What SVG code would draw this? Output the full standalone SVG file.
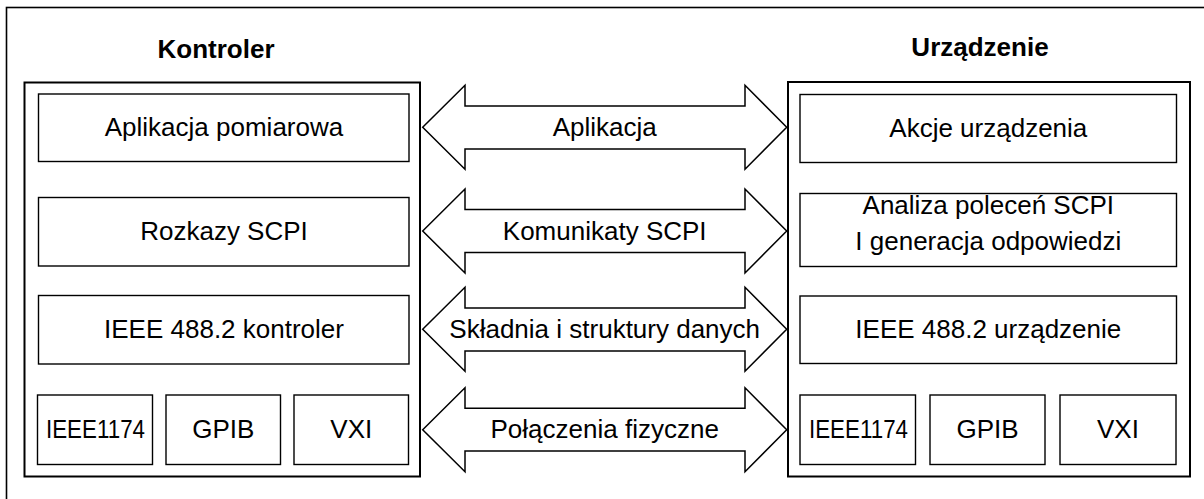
<svg xmlns="http://www.w3.org/2000/svg" width="1204" height="499" viewBox="0 0 1204 499">
<style>
.frame{fill:none;stroke:#000;stroke-width:1.6}
.cont{fill:#fff;stroke:#000;stroke-width:2}
.box{fill:#fff;stroke:#000;stroke-width:1.4}
.arr{fill:#fff;stroke:#000;stroke-width:1.5;stroke-linejoin:miter}
text{font-family:"Liberation Sans",Arial,sans-serif;font-size:26px;fill:#000;text-anchor:middle}
.title{font-weight:bold}
</style>
<rect class="frame" x="6.5" y="7.5" width="1220" height="520"/>
<g id="kontroler">
  <rect class="cont" x="24.5" y="82.5" width="395.5" height="394"/>
  <text class="title" x="216" y="58">Kontroler</text>
</g>
<g id="k-aplikacja">
  <rect class="box" x="38.5" y="94" width="370.5" height="67.5"/>
  <text x="224" y="136">Aplikacja pomiarowa</text>
</g>
<g id="k-scpi">
  <rect class="box" x="38.5" y="197.5" width="370.5" height="68.5"/>
  <text x="224" y="240">Rozkazy SCPI</text>
</g>
<g id="k-ieee">
  <rect class="box" x="38.5" y="295.5" width="370.5" height="68.5"/>
  <text x="224" y="338">IEEE 488.2 kontroler</text>
</g>
<g id="k-ieee1174">
  <rect class="box" x="37.5" y="395" width="115" height="69.5"/>
  <text x="95.5" y="437.5" textLength="99" lengthAdjust="spacingAndGlyphs">IEEE1174</text>
</g>
<g id="k-gpib">
  <rect class="box" x="166" y="395" width="114.5" height="69.5"/>
  <text x="223.3" y="437.5">GPIB</text>
</g>
<g id="k-vxi">
  <rect class="box" x="294" y="395" width="114.5" height="69.5"/>
  <text x="351.3" y="437.5">VXI</text>
</g>
<g id="urzadzenie">
  <rect class="cont" x="788" y="82" width="402" height="394.5"/>
  <text class="title" x="980" y="55.5">Urządzenie</text>
</g>
<g id="u-akcje">
  <rect class="box" x="800" y="94.5" width="376.5" height="68"/>
  <text x="988.3" y="136.5">Akcje urządzenia</text>
</g>
<g id="u-analiza">
  <rect class="box" x="800" y="193.5" width="376.5" height="73"/>
  <text x="988.3" y="213.5">Analiza poleceń SCPI</text>
  <text x="988.3" y="250">I generacja odpowiedzi</text>
</g>
<g id="u-ieee">
  <rect class="box" x="800" y="296" width="376.5" height="67.5"/>
  <text x="988.3" y="338">IEEE 488.2 urządzenie</text>
</g>
<g id="u-ieee1174">
  <rect class="box" x="800" y="395" width="115.5" height="69.5"/>
  <text x="858.5" y="437.5" textLength="99" lengthAdjust="spacingAndGlyphs">IEEE1174</text>
</g>
<g id="u-gpib">
  <rect class="box" x="930" y="395" width="115" height="69.5"/>
  <text x="987.5" y="437.5">GPIB</text>
</g>
<g id="u-vxi">
  <rect class="box" x="1060" y="395" width="116" height="69.5"/>
  <text x="1118" y="437.5">VXI</text>
</g>
<g id="connectors">
  <path class="arr" d="M422.7,127.3 L465,85.3 L465,106 L745,106 L745,85.3 L786.7,127.3 L745,169.3 L745,149 L465,149 L465,169.3 Z"/>
  <text x="604.7" y="135.5">Aplikacja</text>
  <path class="arr" d="M422.7,231 L465,189 L465,209.5 L745,209.5 L745,189 L786.7,231 L745,273 L745,252.5 L465,252.5 L465,273 Z"/>
  <text x="604.7" y="239.5">Komunikaty SCPI</text>
  <path class="arr" d="M422.7,329.3 L465,287.3 L465,308 L745,308 L745,287.3 L786.7,329.3 L745,371.3 L745,351 L465,351 L465,371.3 Z"/>
  <text x="604.7" y="337.5">Składnia i struktury danych</text>
  <path class="arr" d="M422.7,429.7 L465,387.7 L465,408.3 L745,408.3 L745,387.7 L786.7,429.7 L745,471.7 L745,451 L465,451 L465,471.7 Z"/>
  <text x="604.7" y="438.3">Połączenia fizyczne</text>
</g>
</svg>
